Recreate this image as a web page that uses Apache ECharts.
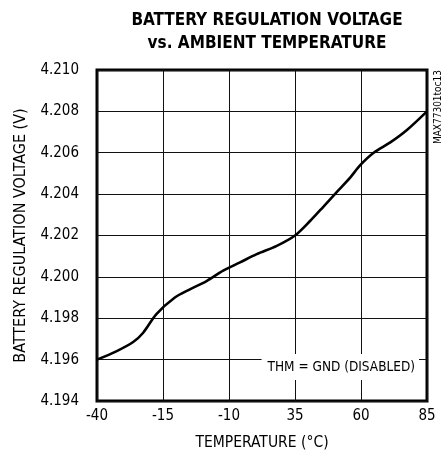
<!DOCTYPE html>
<html>
<head>
<meta charset="utf-8">
<script src="https://cdn.jsdelivr.net/npm/echarts@6/dist/echarts.min.js"></script>
<style>
html,body{margin:0;padding:0;background:#fff;}
#chart{width:448px;height:464px;}
</style>
</head>
<body>
<div id="chart"></div>
<script>
var temperatures = [-40, -32.7, -26.3, -22.5, -17.5, -10.5, -4.8, 1.5, 7.8, 14.2, 20.5, 28.1, 35.0, 40.7, 45.8, 50.8, 55.9, 59.7, 64.8, 71.1, 77.4, 85];
var voltages = [4.1960, 4.1964, 4.19685, 4.1973, 4.1982, 4.1990, 4.1994, 4.1998, 4.2003, 4.2007, 4.2011, 4.2015, 4.2020, 4.2027, 4.2034, 4.2041, 4.2048, 4.2054, 4.2060, 4.2065, 4.2071, 4.2080];
var xTickLabels = ["-40", "-15", "-10", "35", "60", "85"];
var xTickValues = [-40, -15, 10, 35, 60, 85];

var FONT = '"Liberation Sans Narrow", "DejaVu Sans Condensed", "Liberation Sans", sans-serif';
var chart = echarts.init(document.getElementById('chart'), null, {renderer: 'canvas'});
var seriesData = temperatures.map(function (t, i) { return [t, voltages[i]]; });

chart.setOption({
  animation: false,
  backgroundColor: '#fff',
  title: {
    text: 'BATTERY REGULATION VOLTAGE\nvs. AMBIENT TEMPERATURE',
    left: 262,
    textAlign: 'center',
    top: 4,
    textStyle: {fontFamily: FONT, fontWeight: 'bold', fontSize: 17, lineHeight: 23, color: '#000'}
  },
  grid: {left: 97, right: 21, top: 70, bottom: 63, show: true, borderColor: '#000', borderWidth: 3, backgroundColor: 'transparent'},
  xAxis: {
    type: 'value', min: -40, max: 85, interval: 25,
    name: 'TEMPERATURE (°C)', nameLocation: 'middle', nameGap: 34,
    nameTextStyle: {fontFamily: FONT, fontSize: 15.5, color: '#000'},
    axisLine: {show: false}, axisTick: {show: false},
    axisLabel: {
      fontFamily: FONT, fontSize: 15, color: '#000', margin: 8,
      formatter: function (v) { var i = xTickValues.indexOf(v); return i >= 0 ? xTickLabels[i] : ''; }
    },
    splitLine: {show: true, lineStyle: {color: '#111', width: 1}}
  },
  yAxis: {
    type: 'value', min: 4.194, max: 4.210, interval: 0.002,
    name: 'BATTERY REGULATION VOLTAGE (V)', nameLocation: 'middle', nameGap: 68,
    nameTextStyle: {fontFamily: FONT, fontSize: 16, color: '#000'},
    axisLine: {show: false}, axisTick: {show: false},
    axisLabel: {fontFamily: FONT, fontSize: 15, color: '#000', margin: 18,
      formatter: function (v) { return v.toFixed(3); }},
    splitLine: {show: true, lineStyle: {color: '#111', width: 1}}
  },
  graphic: [
    {
      type: 'text', right: 29, top: 354, z: 100,
      style: {text: 'THM = GND (DISABLED)', fontFamily: FONT, fontSize: 13.5, fill: '#000',
        backgroundColor: '#fff', padding: [6, 4, 6, 6]}
    },
    {
      type: 'text', left: 433, top: 70, rotation: Math.PI / 2, z: 100,
      style: {text: 'MAX77301toc13', fontFamily: FONT, fontSize: 10, fill: '#000'}
    }
  ],
  series: [{
    type: 'line', data: seriesData, smooth: 0.3, symbol: 'none',
    lineStyle: {color: '#000', width: 2.6}, z: 5
  }]
});
</script>
</body>
</html>
